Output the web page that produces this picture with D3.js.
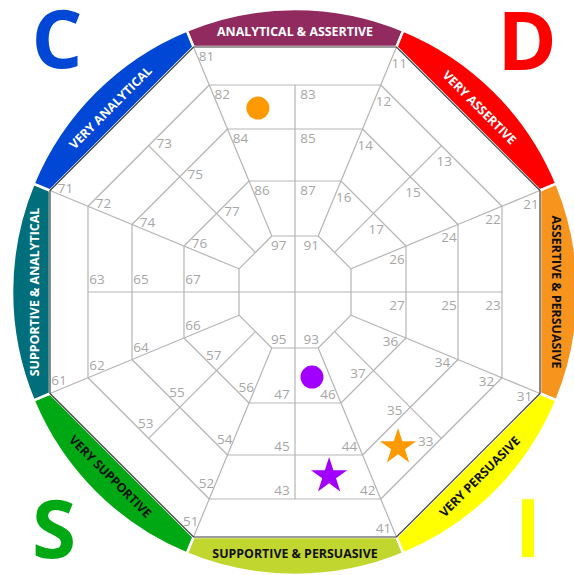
<!DOCTYPE html>
<html>
<head>
<meta charset="utf-8">
<script src="https://cdn.jsdelivr.net/npm/d3@7"></script>
<style>
  body { margin: 0; background: #fff; }
  svg { display: block; font-family: 'Open Sans', sans-serif; }
</style>
</head>
<body>
<svg id="wheel" width="574" height="575"></svg>
<script>
// sectors, clockwise from the top
const sectorAngles = [0, 45, 90, 135, 180, 225, 270, 315]
const sectorNames = [
  'ANALYTICAL & ASSERTIVE',
  'VERY ASSERTIVE',
  'ASSERTIVE & PERSUASIVE',
  'VERY PERSUASIVE',
  'SUPPORTIVE & PERSUASIVE',
  'VERY SUPPORTIVE',
  'SUPPORTIVE & ANALYTICAL',
  'VERY ANALYTICAL',
]
const cellLabels = [
  [81, 82, 83, 84, 85, 86, 87],
  [11, 12, 13, 14, 15, 16, 17],
  [21, 22, 23, 24, 25, 26, 27],
  [31, 32, 33, 34, 35, 36, 37],
  [41, 42, 43, 44, 45, 46, 47],
  [51, 52, 53, 54, 55, 56, 57],
  [61, 62, 63, 64, 65, 66, 67],
  [71, 72, 73, 74, 75, 76, 77],
]
const centerLabels = [97, 91, 93, 95]
const cornerLetters = ['C', 'D', 'S', 'I']

// plotted markers: angle in degrees clockwise from the top, score 0-100 from the centre
const markerShapes = ['circle', 'circle', 'star', 'star']
const markerAngles = [348.6, 168.7, 146.4, 169.5]
const markerScores = [76.6, 35.4, 76, 76.4]

// styles
const sectorColors = ['#912a5e', '#ff0000', '#f7941e', '#ffff00', '#c1d730', '#00a914', '#006f7b', '#0047d6']
const sectorTextColors = ['#fff', '#fff', '#111', '#111', '#111', '#111', '#fff', '#fff']
const markerColors = ['#ff9900', '#a100ff', '#ff9900', '#a100ff']
const letterColors = ['#0047d6', '#ff0000', '#00a914', '#ffff00']

const layout = {
  cx: 295,
  cy: 292,
  ringRadius: 283,
  textRadius: 261,
  letters: [[57, 68], [527, 70], [54, 558], [528, 557]],
}

// octagon rings (apothem) by level
const level = d3.scaleLinear().domain([0, 1, 2, 3, 4, 5]).range([0, 56, 111, 163, 207, 245])
const score = d3.scaleLinear().domain([0, 100]).range([0, level(5)])
const tan = Math.tan(Math.PI / 8)

// corner (level, side) where each cell label sits
const cellCorner = [[5, -1], [4, -1], [4, 0], [3, -1], [3, 0], [2, -1], [2, 0]]

const rad = (deg) => deg * Math.PI / 180

function pt(k, a, s) {
  const th = rad(sectorAngles[k])
  return [
    layout.cx + a * Math.sin(th) + s * Math.cos(th),
    layout.cy - a * Math.cos(th) + s * Math.sin(th),
  ]
}

function polar(r, deg) {
  return [layout.cx + r * Math.sin(rad(deg)), layout.cy - r * Math.cos(rad(deg))]
}

const svg = d3.select('#wheel')

// coloured ring
const ring = svg.append('g')
sectorAngles.forEach((angle, k) => {
  const ao = level(5)
  const v1 = pt(k, ao, -ao * tan)
  const v2 = pt(k, ao, ao * tan)
  const c1 = polar(layout.ringRadius, angle - 22.5)
  const c2 = polar(layout.ringRadius, angle + 22.5)
  const R = layout.ringRadius
  ring.append('path')
    .attr('d', `M${v1}L${c1}A${R},${R} 0 0 1 ${c2}L${v2}Z`)
    .style('fill', sectorColors[k])
    .style('stroke', '#fff')
    .style('stroke-width', 2.5)
})

ring.selectAll('text')
  .data(sectorNames)
  .enter()
  .append('text')
  .attr('transform', (d, k) => {
    const angle = sectorAngles[k]
    const rot = angle <= 90 ? angle : angle <= 225 ? angle - 180 : angle - 360
    const p = polar(layout.textRadius, angle)
    return `translate(${p}) rotate(${rot})`
  })
  .attr('text-anchor', 'middle')
  .attr('dominant-baseline', 'central')
  .style('font-size', '12.4px')
  .style('font-weight', 700)
  .style('fill', (d, k) => sectorTextColors[k])
  .text((d) => d)

// grid
const grid = svg.append('g')
  .style('stroke', '#b5b5b5')
  .style('stroke-width', 1.2)
  .style('fill', 'none')
const line = d3.line()

sectorAngles.forEach((angle, k) => {
  const ao = level(5)
  const ai = level(1)
  grid.append('path').attr('d', line([pt(k, ao, -ao * tan), pt(k, ai, -ai * tan)]))
  ;[4, 3, 2, 1].forEach((l) => {
    const a = level(l)
    grid.append('path').attr('d', line([pt(k, a, -a * tan), pt(k, a, a * tan)]))
  })
  grid.append('path').attr('d', line([pt(k, level(4), 0), pt(k, ai, 0)]))
})
grid.append('path').attr('d', line([pt(0, level(1), 0), pt(4, level(1), 0)]))
grid.append('path').attr('d', line([pt(2, level(1), 0), pt(6, level(1), 0)]))

// outer octagon edge
const outer = sectorAngles.map((angle, k) => pt(k, level(5), -level(5) * tan))
svg.append('path')
  .attr('d', line(outer) + 'Z')
  .style('fill', 'none')
  .style('stroke', '#3a3a3a')
  .style('stroke-width', 1.2)

// cell labels
const labels = svg.append('g')
  .style('font-size', '13.5px')
  .style('fill', '#a6a6a6')
  .attr('text-anchor', 'middle')
  .attr('dominant-baseline', 'central')

cellLabels.forEach((row, k) => {
  row.forEach((label, i) => {
    const [l, side] = cellCorner[i]
    const a = level(l)
    const p = pt(k, a - 9, (side < 0 ? -a * tan : 0) + 13)
    labels.append('text').attr('x', p[0]).attr('y', p[1]).text(label)
  })
})

const centerCorners = [[0, -1], [0, 1], [4, -1], [4, 1]]
centerLabels.forEach((label, i) => {
  const [k, side] = centerCorners[i]
  const a = level(1)
  const p = pt(k, a - 9, side * (a * tan - 7))
  labels.append('text').attr('x', p[0]).attr('y', p[1]).text(label)
})

// markers
const symbols = { circle: d3.symbolCircle, star: d3.symbolStar }
const symbolSizes = { circle: Math.PI * 11.5 * 11.5, star: 19 * 19 / 0.8908130915292852 }
svg.append('g')
  .selectAll('path')
  .data(markerShapes)
  .enter()
  .append('path')
  .attr('transform', (d, i) => `translate(${polar(score(markerScores[i]), markerAngles[i])})`)
  .attr('d', (d) => d3.symbol().type(symbols[d]).size(symbolSizes[d])())
  .style('fill', (d, i) => markerColors[i])

// corner letters
svg.append('g')
  .selectAll('text')
  .data(cornerLetters)
  .enter()
  .append('text')
  .attr('x', (d, i) => layout.letters[i][0])
  .attr('y', (d, i) => layout.letters[i][1])
  .attr('text-anchor', 'middle')
  .style('font-size', '80px')
  .style('font-weight', 700)
  .style('fill', (d, i) => letterColors[i])
  .text((d) => d)
</script>
</body>
</html>
